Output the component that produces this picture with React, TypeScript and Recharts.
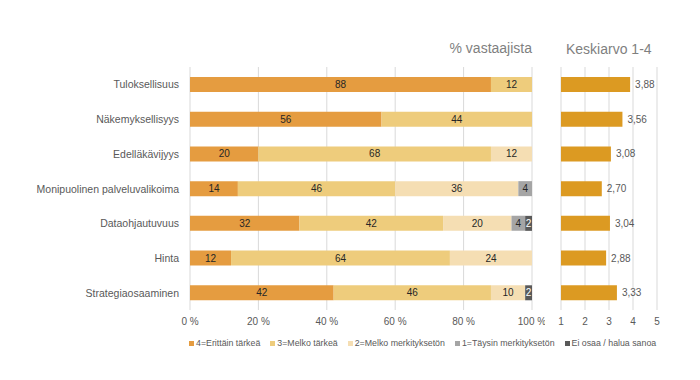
import React from 'react';
import { BarChart, Bar, XAxis, YAxis, CartesianGrid, LabelList } from 'recharts';

const categories = [
  'Tuloksellisuus',
  'Näkemyksellisyys',
  'Edelläkävijyys',
  'Monipuolinen palveluvalikoima',
  'Dataohjautuvuus',
  'Hinta',
  'Strategiaosaaminen',
];
const veryImportant = [88, 56, 20, 14, 32, 12, 42];
const fairlyImportant = [12, 44, 68, 46, 42, 64, 46];
const fairlyIrrelevant = [0, 0, 12, 36, 20, 24, 10];
const irrelevant = [0, 0, 0, 4, 4, 0, 0];
const dontKnow = [0, 0, 0, 0, 2, 0, 2];
const averages = [3.88, 3.56, 3.08, 2.7, 3.04, 2.88, 3.33];

const pctTicks = [0, 20, 40, 60, 80, 100];
const avgTicks = [1, 2, 3, 4, 5];

const series = [
  { key: 'v4', name: '4=Erittäin tärkeä', color: '#E59C40', label: '#262626' },
  { key: 'v3', name: '3=Melko tärkeä', color: '#EECC7C', label: '#262626' },
  { key: 'v2', name: '2=Melko merkityksetön', color: '#F5DEB3', label: '#262626' },
  { key: 'v1', name: '1=Täysin merkityksetön', color: '#A5A5A5', label: '#262626' },
  { key: 'v0', name: 'Ei osaa / halua sanoa', color: '#595959', label: '#FFFFFF' },
];

const data = categories.map((name, i) => ({
  name,
  v4: veryImportant[i],
  v3: fairlyImportant[i],
  v2: fairlyIrrelevant[i],
  v1: irrelevant[i],
  v0: dontKnow[i],
  avg: averages[i],
}));

const font = '"Liberation Sans", Arial, sans-serif';
const hideZero = (v: any) => (v ? v : '');

const CategoryTick = (props: any) => {
  const { x, y, payload } = props;
  return (
    <text x={x - 3} y={y} dy={4} textAnchor="end" fontSize={10.5} fill="#595959" fontFamily={font}>
      {payload.value}
    </text>
  );
};

export default function App() {
  return (
    <div style={{ position: 'absolute', left: 0, top: 0, width: 700, height: 380, background: '#fff', fontFamily: font }}>
      <div style={{ position: 'absolute', right: 168, top: 40, fontSize: 14, color: '#7F7F7F' }}>% vastaajista</div>
      <div style={{ position: 'absolute', left: 566, top: 41, fontSize: 14, color: '#7F7F7F' }}>Keskiarvo 1-4</div>

      <div style={{ position: 'absolute', left: 0, top: 0 }}>
        <BarChart
          width={545}
          height={345}
          data={data}
          layout="vertical"
          margin={{ top: 67, right: 13, left: 0, bottom: 5 }}
          barSize={15}
          style={{ fontFamily: font }}
        >
          <CartesianGrid horizontal={false} stroke="#D9D9D9" />
          <XAxis
            type="number"
            domain={[0, 100]}
            ticks={pctTicks}
            tickFormatter={(v) => `${v} %`}
            axisLine={false}
            tickLine={false}
            height={30}
            tick={{ fontSize: 10, fill: '#595959' }}
          />
          <YAxis
            type="category"
            dataKey="name"
            width={190}
            axisLine={false}
            tickLine={false}
            tick={<CategoryTick />}
          />
          {series.map((s) => (
            <Bar key={s.key} dataKey={s.key} name={s.name} stackId="a" fill={s.color} isAnimationActive={false}>
              <LabelList dataKey={s.key} position="center" formatter={hideZero} style={{ fontSize: 10, fill: s.label }} />
            </Bar>
          ))}
        </BarChart>
      </div>

      <div style={{ position: 'absolute', left: 545, top: 0 }}>
        <BarChart
          width={155}
          height={345}
          data={data}
          layout="vertical"
          margin={{ top: 67, right: 43, left: 16, bottom: 5 }}
          barSize={15}
          style={{ fontFamily: font }}
        >
          <CartesianGrid horizontal={false} stroke="#D9D9D9" />
          <XAxis
            type="number"
            domain={[1, 5]}
            ticks={avgTicks}
            axisLine={false}
            tickLine={false}
            height={30}
            tick={{ fontSize: 10, fill: '#595959' }}
          />
          <YAxis type="category" dataKey="name" hide />
          <Bar dataKey="avg" fill="#DC9A22" isAnimationActive={false}>
            <LabelList
              dataKey="avg"
              position="right"
              offset={5}
              formatter={(v: any) => Number(v).toFixed(2).replace('.', ',')}
              style={{ fontSize: 10, fill: '#595959' }}
            />
          </Bar>
        </BarChart>
      </div>

      <div
        style={{
          position: 'absolute',
          left: 189,
          top: 338,
          display: 'flex',
          gap: 10,
          fontSize: 8.8,
          color: '#595959',
          whiteSpace: 'nowrap',
        }}
      >
        {series.map((s) => (
          <div key={s.key} style={{ display: 'flex', alignItems: 'center' }}>
            <span style={{ display: 'inline-block', width: 5, height: 5, background: s.color, marginRight: 2 }} />
            {s.name}
          </div>
        ))}
      </div>
    </div>
  );
}
